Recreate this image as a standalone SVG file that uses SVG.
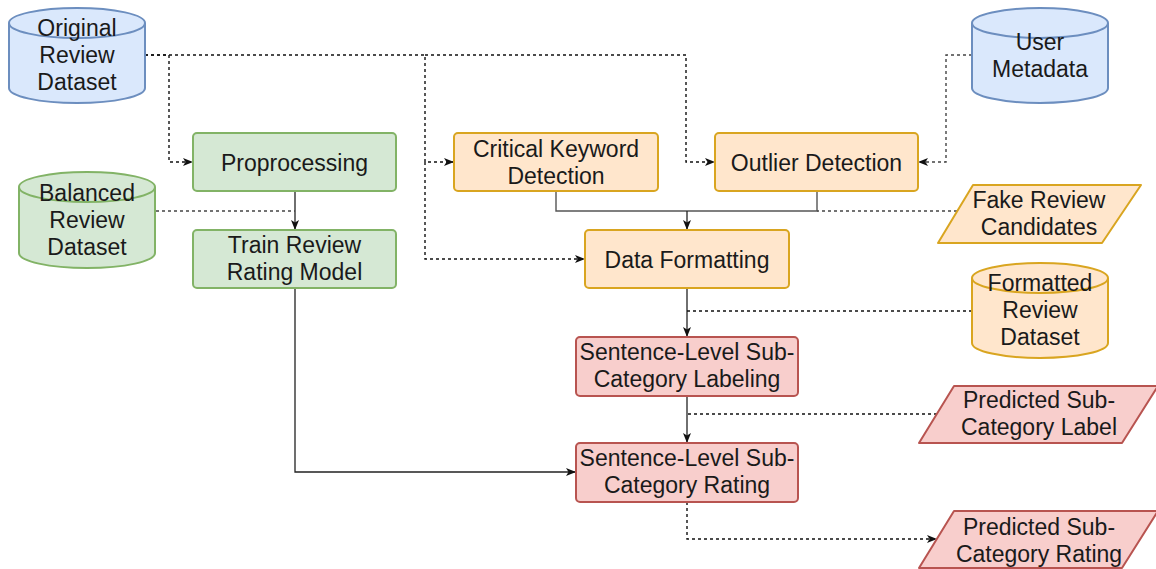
<svg xmlns="http://www.w3.org/2000/svg" width="1156" height="569" viewBox="0 0 1156 569">
<defs>
<style>
text{font-family:"Liberation Sans",Arial,sans-serif;font-size:23px;fill:#1a1a1a;text-anchor:middle}
.blue{fill:#dae8fc;stroke:#6c8ebf;stroke-width:2}
.green{fill:#d5e8d4;stroke:#82b366;stroke-width:2}
.orange{fill:#ffe6cc;stroke:#d9a520;stroke-width:2}
.red{fill:#f8cecc;stroke:#b85450;stroke-width:2}
.cap{fill:none}
.solid{fill:none;stroke:#222;stroke-width:1.3}
.gsolid{fill:none;stroke:#555;stroke-width:1.4}
.dash{fill:none;stroke:#111;stroke-width:1.4;stroke-dasharray:3 3}
.gdash{fill:none;stroke:#444;stroke-width:1.4;stroke-dasharray:3 3}
</style>
<marker id="arr" viewBox="0 0 10 8" refX="9" refY="4" markerWidth="10" markerHeight="8" markerUnits="userSpaceOnUse" orient="auto">
<path d="M0,0 L10,4 L0,8 L2.5,4 Z" fill="#111"/>
</marker>
</defs>

<g id="connectors">
<path class="dash" d="M145,55 H169 V162 H192" marker-end="url(#arr)"/>
<path class="dash" d="M145,55 H425 V162 H453" marker-end="url(#arr)"/>
<path class="dash" d="M425,162 V259 H584" marker-end="url(#arr)"/>
<path class="dash" d="M425,55 H686 V162 H714" marker-end="url(#arr)"/>
<path class="gdash" d="M972,55 H946 V162 H919" marker-end="url(#arr)"/>
<path class="solid" d="M295,191 V229" marker-end="url(#arr)"/>
<path class="gdash" d="M156,211 H295"/>
<path class="gsolid" d="M556,191 V211 H817 V191"/>
<path class="solid" d="M687,211 V229" marker-end="url(#arr)"/>
<path class="gdash" d="M957,211 H817"/>
<path class="solid" d="M687,288 V336" marker-end="url(#arr)"/>
<path class="dash" d="M972,311 H687"/>
<path class="solid" d="M687,396 V442" marker-end="url(#arr)"/>
<path class="dash" d="M937,414 H687"/>
<path class="solid" d="M295,288 V472 H575" marker-end="url(#arr)"/>
<path class="dash" d="M687,502 V539 H936" marker-end="url(#arr)"/>
</g>

<g id="original-review-dataset">
<path class="blue" d="M9,23 A68,15 0 0 1 145,23 V88 A68,15 0 0 1 9,88 Z"/>
<path class="blue cap" d="M9,23 A68,15 0 0 0 145,23"/>
<text x="77" y="36">Original</text>
<text x="77" y="63">Review</text>
<text x="77" y="90">Dataset</text>
</g>

<g id="balanced-review-dataset">
<path class="green" d="M19,187 A68,15 0 0 1 155,187 V253 A68,15 0 0 1 19,253 Z"/>
<path class="green cap" d="M19,187 A68,15 0 0 0 155,187"/>
<text x="87" y="201">Balanced</text>
<text x="87" y="228">Review</text>
<text x="87" y="255">Dataset</text>
</g>

<g id="user-metadata">
<path class="blue" d="M972,23 A68,15 0 0 1 1108,23 V88 A68,15 0 0 1 972,88 Z"/>
<path class="blue cap" d="M972,23 A68,15 0 0 0 1108,23"/>
<text x="1040" y="50">User</text>
<text x="1040" y="77">Metadata</text>
</g>

<g id="formatted-review-dataset">
<path class="orange" d="M972,278 A68,15 0 0 1 1108,278 V343 A68,15 0 0 1 972,343 Z"/>
<path class="orange cap" d="M972,278 A68,15 0 0 0 1108,278"/>
<text x="1040" y="291">Formatted</text>
<text x="1040" y="318">Review</text>
<text x="1040" y="345">Dataset</text>
</g>

<g id="proprocessing">
<rect class="green" x="193" y="133" width="203" height="58" rx="4"/>
<text x="294.5" y="171">Proprocessing</text>
</g>

<g id="train-review-rating-model">
<rect class="green" x="193" y="230" width="203" height="58" rx="4"/>
<text x="294.5" y="253">Train Review</text>
<text x="294.5" y="280">Rating Model</text>
</g>

<g id="critical-keyword-detection">
<rect class="orange" x="454" y="133" width="204" height="58" rx="4"/>
<text x="556" y="157">Critical Keyword</text>
<text x="556" y="184">Detection</text>
</g>

<g id="outlier-detection">
<rect class="orange" x="715" y="133" width="203" height="58" rx="4"/>
<text x="816.5" y="171">Outlier Detection</text>
</g>

<g id="data-formatting">
<rect class="orange" x="585" y="230" width="204" height="58" rx="4"/>
<text x="687" y="268">Data Formatting</text>
</g>

<g id="fake-review-candidates">
<path class="orange" stroke-linejoin="round" d="M973,185 H1141 L1102,243 H938 Z"/>
<text x="1039" y="208">Fake Review</text>
<text x="1039" y="235">Candidates</text>
</g>

<g id="sentence-level-labeling">
<rect class="red" x="576" y="337" width="222" height="59" rx="4"/>
<text x="687" y="360">Sentence-Level Sub-</text>
<text x="687" y="387">Category Labeling</text>
</g>

<g id="sentence-level-rating">
<rect class="red" x="576" y="443" width="222" height="59" rx="4"/>
<text x="687" y="466">Sentence-Level Sub-</text>
<text x="687" y="493">Category Rating</text>
</g>

<g id="predicted-sub-category-label">
<path class="red" stroke-linejoin="round" d="M954,386 H1158 L1122,443 H919 Z"/>
<text x="1039" y="408">Predicted Sub-</text>
<text x="1039" y="435">Category Label</text>
</g>

<g id="predicted-sub-category-rating">
<path class="red" stroke-linejoin="round" d="M954,511 H1158 L1122,568 H919 Z"/>
<text x="1039" y="535">Predicted Sub-</text>
<text x="1039" y="562">Category Rating</text>
</g>
</svg>
